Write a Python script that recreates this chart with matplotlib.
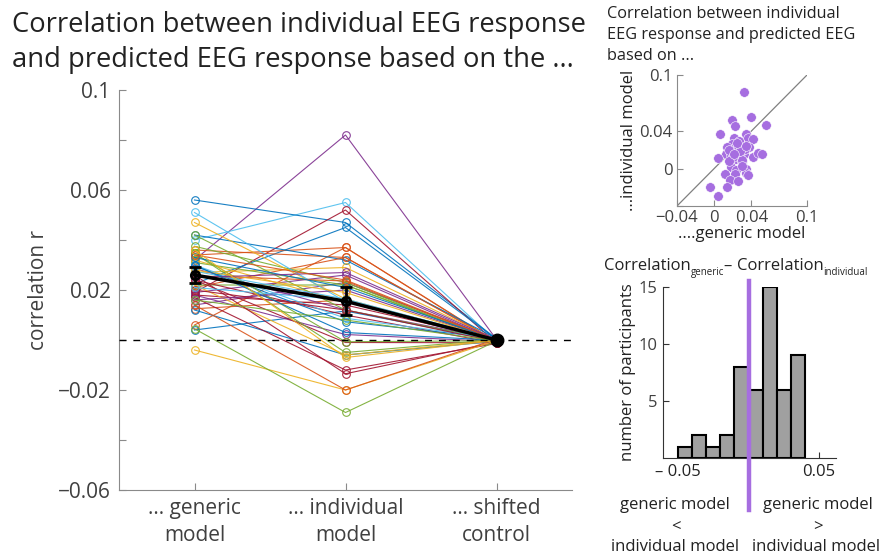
import matplotlib
matplotlib.use("Agg")
import matplotlib.pyplot as plt
import numpy as np

plt.rcParams['font.family'] = ['Open Sans', 'DejaVu Sans']

# ---------------- data ----------------
categories = ["... generic\nmodel", "... individual\nmodel", "... shifted\ncontrol"]

generic_r = [0.032, 0.040, 0.056, 0.019, 0.0225, 0.006, 0.034, 0.036, 0.042, 0.021,
             0.027, 0.019, 0.014, 0.022, 0.031, 0.0375, 0.0125, 0.018, 0.004, 0.024,
             0.0286, 0.032, 0.0296, 0.042, 0.047, 0.051, 0.018, 0.024, 0.0346, 0.0346,
             0.012, 0.022, 0.017, 0.026, -0.004, 0.014, 0.0045, 0.016, 0.0275, 0.030,
             0.0257, 0.033, 0.028, 0.025, 0.020, 0.030, 0.016, 0.034, 0.021, 0.036]

individual_r = [0.082, 0.055, 0.047, 0.052, 0.045, 0.037, 0.037, 0.033, 0.032, 0.033,
                0.029, 0.026, 0.023, 0.022, 0.022, 0.023, 0.016, 0.014, 0.0116, 0.010,
                0.012, 0.0153, 0.0073, 0.012, 0.0164, 0.0153, 0.0022, -0.001, -0.0007, -0.005,
                -0.006, -0.006, -0.012, -0.0135, -0.020, -0.020, -0.029, 0.020, 0.0164, 0.0087,
                0.0236, 0.021, 0.019, 0.027, 0.012, 0.003, 0.008, 0.024, 0.016, -0.007]

shifted_r = [0.0002, -0.0004, 0.0005, -0.0012, 0.0003, -0.0008, -0.0010, -0.0003, 0.0006, -0.0006,
             0.0001, -0.0002, 0.0004, -0.0005, 0.0000, -0.0007, -0.0009, 0.0002, -0.0001, -0.0013,
             0.0003, -0.0004, 0.0007, -0.0002, 0.0001, 0.0005, -0.0006, -0.0011, -0.0003, 0.0002,
             -0.0005, 0.0000, -0.0014, -0.0008, -0.0002, 0.0004, -0.0004, -0.0001, 0.0003, 0.0006,
             -0.0003, 0.0001, -0.0002, 0.0002, -0.0007, -0.0001, -0.0004, 0.0000, 0.0003, -0.0002]

mean_r = [0.026, 0.0155, 0.0]
err_r = [0.0032, 0.0056, 0.0]

hist_edges = [-0.05, -0.04, -0.03, -0.02, -0.01, 0.0, 0.01, 0.02, 0.03, 0.04]
hist_counts = [1, 2, 1, 2, 8, 6, 15, 6, 9]

# ---------------- styles ----------------
mc = {'blue': '#0072BD', 'orange': '#D95319', 'yellow': '#EDB120', 'purple': '#7E2F8E',
      'green': '#77AC30', 'lightblue': '#4DBEEE', 'red': '#A2142F'}
line_colors = ['purple', 'lightblue', 'blue', 'red', 'blue', 'orange', 'orange', 'orange', 'blue', 'orange',
               'yellow', 'purple', 'purple', 'green', 'green', 'green', 'orange', 'red', 'blue', 'red',
               'purple', 'yellow', 'blue', 'green', 'yellow', 'lightblue', 'purple', 'red', 'green', 'green',
               'blue', 'yellow', 'red', 'red', 'yellow', 'orange', 'green', 'purple', 'lightblue', 'lightblue',
               'orange', 'blue', 'yellow', 'purple', 'red', 'blue', 'green', 'orange', 'lightblue', 'yellow']

W, H = 882, 559
fig = plt.figure(figsize=(W / 100, H / 100), dpi=100)


def fx(x):
    return x / W


def fy(y):
    return 1 - y / H


spine_gray = '#8a8a8a'
label_gray = '#404040'
text_dark = '#222222'
purple_pt = '#A66EE0'

# ---------------- main axes ----------------
ax = fig.add_axes([fx(119), fy(490), fx(572) - fx(119), fy(90) - fy(490)])
xs = [1, 2, 3]
for g, i, s, c in zip(generic_r, individual_r, shifted_r, line_colors):
    ax.plot(xs, [g, i, s], color=mc[c], lw=0.8, marker='o', ms=5.5, mfc='none',
            mew=0.8, alpha=0.9, zorder=2)
ax.axhline(0, color='k', lw=1.0, dashes=(5, 5), zorder=3)
ax.errorbar(xs[:2], mean_r[:2], yerr=err_r[:2], color='k', lw=2.5, capsize=4, capthick=2,
            elinewidth=2, marker='o', ms=6, mfc='none', mew=2, zorder=5)
ax.plot(xs[1:], mean_r[1:], color='k', lw=2.5, zorder=5)
ax.plot([xs[2]], [mean_r[2]], marker='o', ms=9, color='k', zorder=6)

ax.set_xlim(0.5, 3.5)
ax.set_ylim(-0.06, 0.1)
ax.set_xticks(xs)
ax.set_xticklabels(categories, fontsize=15, color=label_gray, linespacing=1.35)
yt = [-0.06, -0.04, -0.02, 0.0, 0.02, 0.04, 0.06, 0.08, 0.1]
ylab = {-0.06: '\u22120.06', -0.02: '\u22120.02', 0.02: '0.02', 0.06: '0.06', 0.1: '0.1'}
ax.set_yticks(yt)
ax.set_yticklabels([ylab.get(v, '') for v in yt], fontsize=15, color=label_gray)
ax.set_ylabel('correlation r', fontsize=15, color=label_gray, labelpad=6)
for sp in ['top', 'right']:
    ax.spines[sp].set_visible(False)
for sp in ['left', 'bottom']:
    ax.spines[sp].set_color(spine_gray)
ax.tick_params(direction='in', length=5, color=spine_gray, pad=6)

fig.text(fx(12), fy(32), 'Correlation between individual EEG response',
         fontsize=19.7, color=text_dark, va='baseline', ha='left')
fig.text(fx(12), fy(67), 'and predicted EEG response based on the ...',
         fontsize=19.7, color=text_dark, va='baseline', ha='left')

# ---------------- scatter axes ----------------
ax2 = fig.add_axes([fx(677), fy(206), fx(807) - fx(677), fy(75) - fy(206)])
ax2.plot([-0.04, 0.1], [-0.04, 0.1], color='#808080', lw=0.9, zorder=1)
ax2.scatter(generic_r, individual_r, s=48, color=purple_pt, edgecolor='white', lw=0.4, zorder=2)
ax2.set_xlim(-0.04, 0.1)
ax2.set_ylim(-0.04, 0.1)
ax2.set_xticks([-0.04, 0, 0.04, 0.1])
ax2.set_xticklabels(['\u22120.04', '0', '0.04', '0.1'], fontsize=12, color=label_gray)
ax2.set_yticks([-0.04, 0, 0.04, 0.1])
ax2.set_yticklabels(['', '0', '0.04', '0.1'], fontsize=12, color=label_gray)
for sp in ['top', 'right']:
    ax2.spines[sp].set_visible(False)
for sp in ['left', 'bottom']:
    ax2.spines[sp].set_color(spine_gray)
ax2.tick_params(direction='in', length=4, color=spine_gray, pad=3)
ax2.set_xlabel('....generic model', fontsize=12, color=text_dark, labelpad=0)
ax2.set_ylabel('...individual model', fontsize=12, color=text_dark, labelpad=2)

for yb, t in [(17.5, 'Correlation between individual'),
              (39, 'EEG response and predicted EEG'),
              (60, 'based on ...')]:
    fig.text(fx(607), fy(yb), t, fontsize=11.7, color=text_dark, va='baseline', ha='left')

# ---------------- histogram axes ----------------
ax3 = fig.add_axes([fx(663), fy(458), fx(836) - fx(663), fy(287) - fy(458)])
ax3.bar(hist_edges[:-1], hist_counts, width=np.diff(hist_edges), align='edge',
        color='#a0a0a0', edgecolor='k', lw=1.5, zorder=2)
ax3.set_xlim(-0.0606, 0.062)
ax3.set_ylim(0, 15)
ax3.set_xticks([-0.05, 0.05])
ax3.set_xticklabels(['\u2013 0.05', '0.05'], fontsize=12, color=text_dark)
ax3.set_yticks([5, 10, 15])
ax3.set_yticklabels(['5', '10', '15'], fontsize=12, color=label_gray)
for sp in ['top', 'right']:
    ax3.spines[sp].set_visible(False)
for sp in ['left', 'bottom']:
    ax3.spines[sp].set_color('#333333')
ax3.tick_params(direction='in', length=4, color='#333333', pad=4)
ax3.set_ylabel('number of participants', fontsize=12, color=text_dark, labelpad=2)
ax3.plot([0, 0], [-4.6, 15.5], color=purple_pt, lw=3.2, clip_on=False, zorder=5)

# histogram title composed of main text and small subscripts
renderer = fig.canvas.get_renderer()
xcur = 604.0
base = 270.0
for txt, size, dy in [('Correlation', 12, 0), ('generic', 7, 4.5), ('\u2013 ', 12, 0),
                      ('Correlation', 12, 0), ('individual', 7, 4.5)]:
    t = fig.text(fx(xcur), fy(base + dy), txt, fontsize=size, color=text_dark,
                 ha='left', va='baseline')
    xcur += t.get_window_extent(renderer).width

for xc, t in [(675, 'generic model'), (818, 'generic model')]:
    fig.text(fx(xc), fy(505), t, fontsize=12, color=text_dark, ha='center', va='center')
fig.text(fx(676), fy(527), '<', fontsize=12, color=text_dark, ha='center', va='center')
fig.text(fx(818), fy(527), '>', fontsize=12, color=text_dark, ha='center', va='center')
for xc, t in [(675, 'individual model'), (816, 'individual model')]:
    fig.text(fx(xc), fy(547), t, fontsize=12, color=text_dark, ha='center', va='center')

fig.savefig('out.png', dpi=100)
